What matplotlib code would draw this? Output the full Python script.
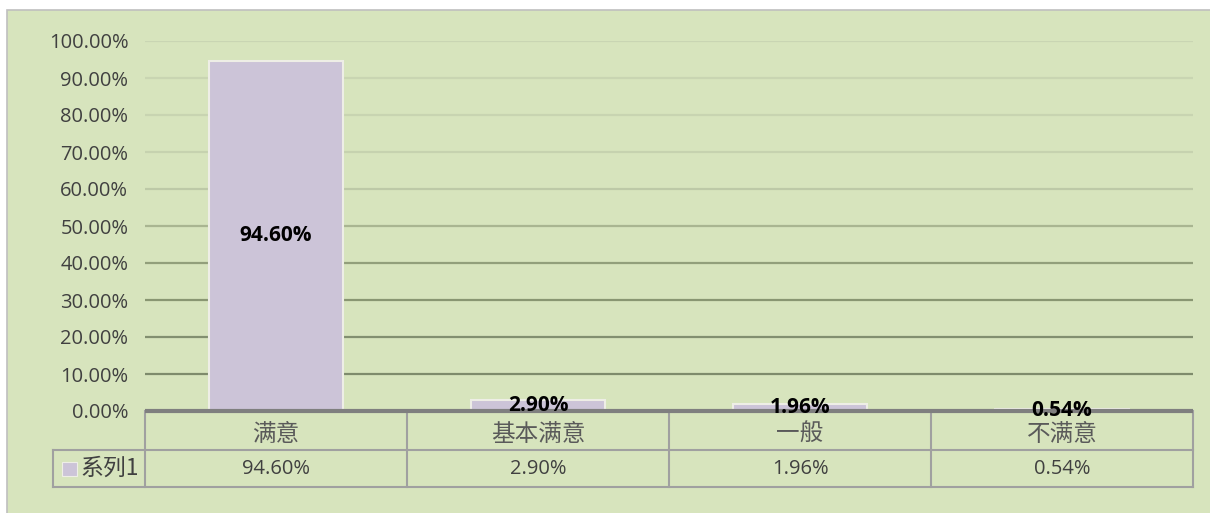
import matplotlib
matplotlib.use("Agg")
import matplotlib.pyplot as plt
from matplotlib.patches import Rectangle
from matplotlib.transforms import blended_transform_factory

categories = ["满意", "基本满意", "一般", "不满意"]
values = [0.946, 0.029, 0.0196, 0.0054]
value_labels = ["94.60%", "2.90%", "1.96%", "0.54%"]
series_name = "系列1"
yticks = [0.0, 0.1, 0.2, 0.3, 0.4, 0.5, 0.6, 0.7, 0.8, 0.9, 1.0]
ytick_labels = ["0.00%", "10.00%", "20.00%", "30.00%", "40.00%", "50.00%",
                "60.00%", "70.00%", "80.00%", "90.00%", "100.00%"]

plt.rcParams['font.family'] = ['Open Sans', 'Noto Sans CJK SC', 'DejaVu Sans']

W, H = 1210, 513
fig = plt.figure(figsize=(W / 100, H / 100), dpi=100)
fig.patch.set_facecolor("white")

green = "#D7E4BD"
bg = Rectangle((7 / W, -0.01), 1.1, (H - 10) / H + 0.01,
               transform=fig.transFigure, facecolor=green,
               edgecolor="#BFBFBF", linewidth=1.2, zorder=-10)
fig.patches.append(bg)

left, right, top, bottom = 145, 1193, 41, 411
ax = fig.add_axes([left / W, 1 - bottom / H, (right - left) / W, (bottom - top) / H])
ax.set_zorder(5)
ax.set_facecolor("none")
for s in ax.spines.values():
    s.set_visible(False)

n = len(categories)
ax.set_xlim(-0.5, n - 0.5)
ax.set_ylim(0, 1.0)

grid_colors = ["#7E8B6C", "#828F70", "#899672", "#929F7B", "#A9B591",
               "#BDC9A7", "#C6D2AF", "#C8D4B1", "#C9D5B2", "#C9D5B3"]
for yv, c in zip(yticks[1:], grid_colors):
    ax.axhline(yv, color=c, linewidth=1.6, zorder=1)

bar_color = "#CCC4D8"
ax.bar(range(n), values, width=0.51, color=bar_color, edgecolor="#EEEEE6",
       linewidth=1.5, zorder=2)

for i, (v, lab) in enumerate(zip(values, value_labels)):
    ax.text(i, v / 2, lab, ha="center", va="center", fontsize=15,
            fontweight="bold", color="black", zorder=5)

ax.set_yticks(yticks)
ax.set_yticklabels(ytick_labels, fontsize=14.5, color="#404040")
ax.tick_params(axis="y", length=0, pad=12)
ax.set_xticks([])

# data table below the axis
tr = blended_transform_factory(ax.transData, ax.transAxes)
ph = bottom - top
cw = (right - left) / n
r1 = -39 / ph
r2 = -76 / ph
leg_left = -0.5 - 92 / cw
tcol = "#A0A0A0"
lw = 1.5

ax.plot([-0.5, n - 0.5], [0, 0], transform=tr, color="#7F7F7F",
        linewidth=3, clip_on=False, zorder=4, solid_capstyle="butt")
ax.plot([leg_left, n - 0.5], [r1, r1], transform=tr, color=tcol, lw=lw, clip_on=False)
ax.plot([leg_left, n - 0.5], [r2, r2], transform=tr, color=tcol, lw=lw, clip_on=False)
for xb in [-0.5 + k for k in range(n + 1)]:
    ax.plot([xb, xb], [0, r2], transform=tr, color=tcol, lw=lw, clip_on=False)
ax.plot([leg_left, leg_left], [r1, r2], transform=tr, color=tcol, lw=lw, clip_on=False)

for i, (cat, lab) in enumerate(zip(categories, value_labels)):
    ax.text(i, r1 / 2 - 4 / ph, cat, transform=tr, ha="center", va="center",
            fontsize=17, color="#5A5A5A", family=['Noto Sans CJK SC', 'DejaVu Sans'])
    ax.text(i, (r1 + r2) / 2, lab, transform=tr, ha="center", va="center",
            fontsize=14.5, color="#404040")

ax.add_patch(Rectangle((leg_left + 9 / cw, (r1 + r2) / 2 - 7 / ph), 15 / cw, 14 / ph,
                       transform=tr, facecolor=bar_color, edgecolor="#EEEEE6",
                       linewidth=0.8, clip_on=False))
ax.text(leg_left + 27 / cw, (r1 + r2) / 2, series_name, transform=tr, ha="left",
        va="center", fontsize=16.5, color="#404040",
        family=['Noto Sans CJK SC', 'DejaVu Sans'])

fig.savefig("out.png", dpi=100)
